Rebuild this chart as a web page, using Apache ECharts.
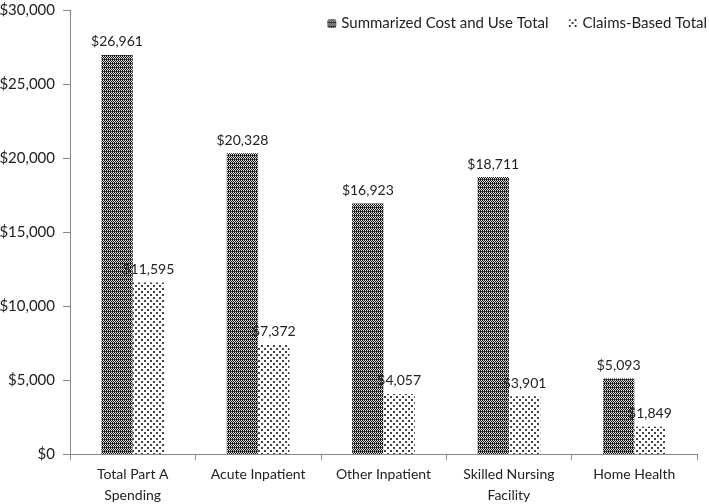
<!DOCTYPE html>
<html><head><meta charset="utf-8">
<script src="https://cdn.jsdelivr.net/npm/echarts@6/dist/echarts.min.js"></script>
<style>html,body{margin:0;padding:0;background:#fff}#c{width:709px;height:504px}</style>
</head><body><div id="c"></div>
<script>
const categories = ["Total Part A\nSpending", "Acute Inpatient", "Other Inpatient", "Skilled Nursing\nFacility", "Home Health"];
const seriesNames = ["Summarized Cost and Use Total", "Claims-Based Total"];
const summarizedTotal = [26961, 20328, 16923, 18711, 5093];
const claimsTotal = [11595, 7372, 4057, 3901, 1849];
const yTicks = [0, 5000, 10000, 15000, 20000, 25000, 30000];

function checkerPattern() {
  const c = document.createElement('canvas'); c.width = 4; c.height = 4;
  const g = c.getContext('2d');
  g.fillStyle = '#e0e0e0'; g.fillRect(0, 0, 4, 4);
  g.fillStyle = '#111';
  for (let y = 0; y < 4; y++) for (let x = 0; x < 4; x++) if ((x + y) % 2 === 0) g.fillRect(x, y, 1, 1);
  g.fillStyle = '#555';
  g.fillRect(0, 3, 4, 1);
  for (let x = 0; x < 4; x++) if (x % 2 === 0) { g.fillStyle = '#111'; g.fillRect(x, 3, 1, 1); }
  return c;
}
function dotPattern() {
  const c = document.createElement('canvas'); c.width = 6; c.height = 6;
  const g = c.getContext('2d');
  g.fillStyle = '#fff'; g.fillRect(0, 0, 6, 6);
  g.fillStyle = '#444';
  g.fillRect(0, 0, 2, 2); g.fillRect(3, 3, 2, 2);
  return c;
}
const font = 'Lato, "Liberation Sans", sans-serif';
const chart = echarts.init(document.getElementById('c'), null, {renderer: 'canvas'});
const fmt = v => '$' + v.toLocaleString('en-US');
chart.setOption({
  animation: false,
  backgroundColor: '#fff',
  textStyle: {fontFamily: font},
  legend: {
    top: 11, right: -3, itemWidth: 9, itemHeight: 9, itemGap: 20,
    textStyle: {fontFamily: font, fontSize: 15, color: '#222'},
    data: seriesNames
  },
  grid: {left: 70, right: 12, top: 10, bottom: 50, containLabel: false, outerBoundsMode: 'none'},
  xAxis: {
    type: 'category', data: categories,
    axisLine: {lineStyle: {color: '#888'}},
    axisTick: {show: true, alignWithLabel: false, length: 6, lineStyle: {color: '#888'}},
    axisLabel: {fontFamily: font, fontSize: 14, color: '#222', margin: 10, lineHeight: 21, interval: 0}
  },
  yAxis: {
    type: 'value', min: yTicks[0], max: yTicks[yTicks.length - 1], interval: 5000,
    axisLine: {show: true, lineStyle: {color: '#888'}},
    axisTick: {show: true, length: 7, lineStyle: {color: '#888'}},
    splitLine: {show: false},
    axisLabel: {fontFamily: font, fontSize: 15, color: '#222', margin: 15, formatter: fmt}
  },
  series: [
    {name: seriesNames[0], type: 'bar', data: summarizedTotal, barGap: '0%', barCategoryGap: '50%',
     itemStyle: {color: {image: checkerPattern(), repeat: 'repeat'}},
     label: {show: true, position: 'top', distance: 6, fontFamily: font, fontSize: 14, color: '#222', formatter: p => fmt(p.value)}},
    {name: seriesNames[1], type: 'bar', data: claimsTotal,
     itemStyle: {color: {image: dotPattern(), repeat: 'repeat'}},
     label: {show: true, position: 'top', distance: 6, fontFamily: font, fontSize: 14, color: '#222', formatter: p => fmt(p.value)}}
  ]
});
</script></body></html>
